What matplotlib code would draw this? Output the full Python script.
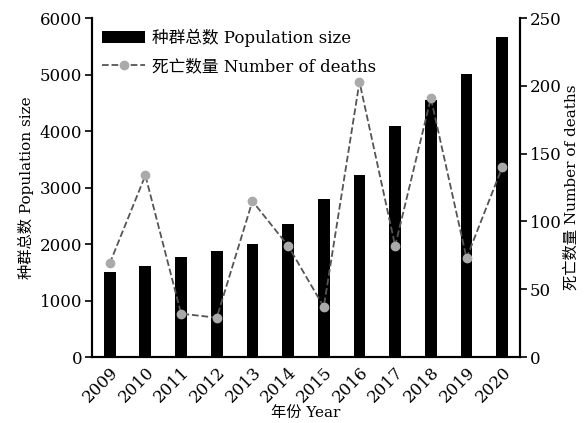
import matplotlib
matplotlib.use("Agg")
import matplotlib.pyplot as plt
import numpy as np

years = ["2009", "2010", "2011", "2012", "2013", "2014",
         "2015", "2016", "2017", "2018", "2019", "2020"]
population = [1500, 1620, 1775, 1880, 2010, 2355, 2800, 3230, 4090, 4550, 5005, 5670]
deaths = [69, 134, 32, 29, 115, 82, 37, 203, 82, 191, 73, 140]

plt.rcParams["font.family"] = ["DejaVu Serif", "Noto Sans CJK SC"]
plt.rcParams["font.size"] = 12

fig = plt.figure(figsize=(5.85, 4.23), dpi=100)
ax = fig.add_axes([0.157, 0.156, 0.732, 0.801])
x = np.arange(len(years))

ax.bar(x, population, width=0.33, color="black", label="种群总数 Population size", zorder=2)
ax.set_xlim(-0.5, 11.5)
ax.set_ylim(0, 6000)
ax.set_yticks(range(0, 6001, 1000))
ax.set_xticks(x)
ax.set_xticklabels(years, rotation=45, ha="right", rotation_mode="anchor")
ax.tick_params(axis="x", length=0, pad=5, labelsize=12)
ax.tick_params(axis="y", direction="out", length=5, width=1.2, labelsize=12, pad=2)
ax.set_xlabel("年份 Year", fontsize=11, labelpad=0)
ax.set_ylabel("种群总数 Population size", fontsize=11, labelpad=4)

ax2 = ax.twinx()
ax2.plot(x, deaths, linestyle="--", color="#555555", linewidth=1.3,
         marker="o", markersize=6, markerfacecolor="#aaaaaa", markeredgecolor="#aaaaaa",
         label="死亡数量 Number of deaths", zorder=3)
ax2.set_ylim(0, 250)
ax2.set_yticks(range(0, 251, 50))
ax2.tick_params(axis="y", direction="out", length=5, width=1.2, labelsize=12, pad=2)
ax2.set_ylabel("死亡数量 Number of deaths", fontsize=11, rotation=90, labelpad=2)

for a in (ax, ax2):
    a.spines["top"].set_visible(False)
    for s in ("left", "right", "bottom"):
        a.spines[s].set_linewidth(1.5)

h1, l1 = ax.get_legend_handles_labels()
h2, l2 = ax2.get_legend_handles_labels()
ax2.legend(h1 + h2, l1 + l2, loc="upper left", frameon=False, fontsize=12,
           handlelength=2.6, handletextpad=0.4, labelspacing=0.7,
           borderaxespad=0.2, bbox_to_anchor=(0.0, 1.0))

fig.savefig("out.png", dpi=100)
